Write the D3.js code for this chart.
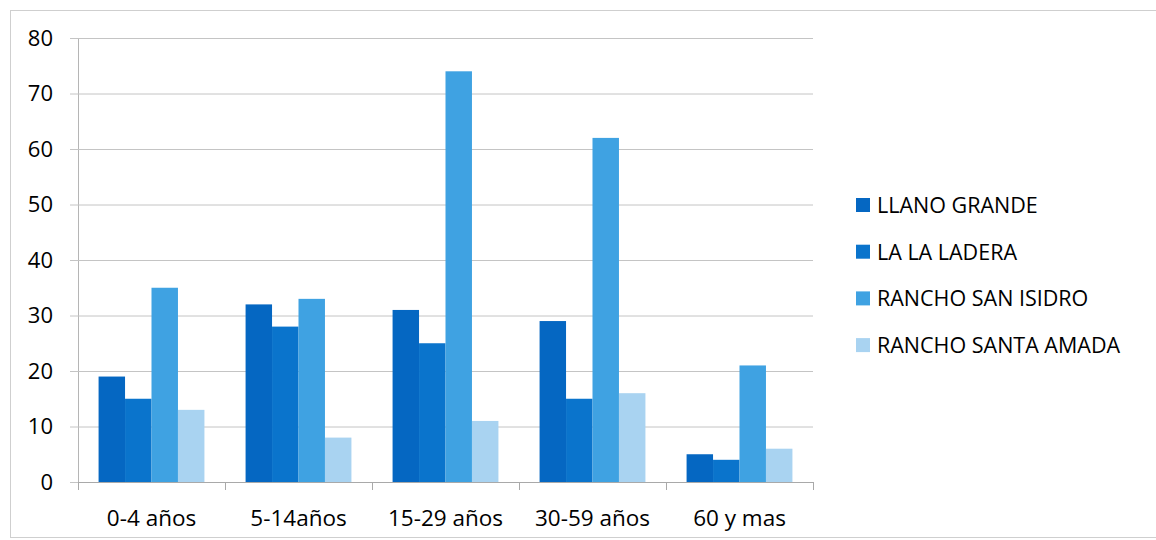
<!DOCTYPE html>
<html>
<head>
<meta charset="utf-8">
<script src="https://cdn.jsdelivr.net/npm/d3@7"></script>
<style>
  body { margin: 0; background: #fff; }
  svg { display: block; }
  text { font-family: "Open Sans", sans-serif; fill: #000; }
</style>
</head>
<body>
<div id="chart"></div>
<script>
// datos
let categorias = ['0-4 años', '5-14años', '15-29 años', '30-59 años', '60 y mas'];
let series = ['LLANO GRANDE', 'LA LA LADERA', 'RANCHO SAN ISIDRO', 'RANCHO SANTA AMADA'];
let llanoGrande = [19, 32, 31, 29, 5];
let laLadera = [15, 28, 25, 15, 4];
let sanIsidro = [35, 33, 74, 62, 21];
let santaAmada = [13, 8, 11, 16, 6];
let yTicks = [0, 10, 20, 30, 40, 50, 60, 70, 80];
let colores = ['#0567c2', '#0a74cc', '#3fa2e2', '#a9d3f1'];

let valores = [llanoGrande, laLadera, sanIsidro, santaAmada];

let width = 1156, height = 540;
let margin = {left: 78, right: 343, top: 38, bottom: 58};

let svg = d3.select('#chart').append('svg')
    .attr('width', width)
    .attr('height', height);

// marco exterior
svg.append('rect')
    .attr('x', 10.5).attr('y', 10.5)
    .attr('width', 1150).attr('height', 527)
    .attr('fill', 'none')
    .attr('stroke', '#cfcfcf');

let x0 = d3.scaleBand()
    .domain(categorias)
    .range([margin.left, width - margin.right])
    .paddingInner(0.28)
    .paddingOuter(0.14);

let x1 = d3.scaleBand()
    .domain(series)
    .range([0, x0.bandwidth()]);

let y = d3.scaleLinear()
    .domain([0, 80])
    .range([height - margin.bottom, margin.top]);

// rejilla
let yAxis = svg.append('g')
    .attr('transform', 'translate(' + margin.left + ',0)')
    .call(d3.axisLeft(y).tickValues(yTicks).tickSize(8).tickPadding(17));
yAxis.select('.domain').attr('stroke', '#b5b5b5');
yAxis.selectAll('.tick line').attr('stroke', '#c4c4c4');
yAxis.selectAll('.tick text')
    .style('font-size', '22px')
    .style('font-family', '"Open Sans", sans-serif')
    .attr('fill', '#000');

svg.append('g')
    .selectAll('line')
    .data(yTicks.filter(d => d > 0))
    .enter()
    .append('line')
    .attr('x1', margin.left)
    .attr('x2', width - margin.right)
    .attr('y1', d => y(d) + 0.5)
    .attr('y2', d => y(d) + 0.5)
    .attr('stroke', '#c4c4c4');

// barras
let grupos = svg.append('g')
    .selectAll('g')
    .data(categorias)
    .enter()
    .append('g')
    .attr('transform', d => 'translate(' + x0(d) + ',0)');

grupos.selectAll('rect')
    .data((d, i) => series.map((s, j) => ({serie: s, valor: valores[j][i], color: colores[j]})))
    .enter()
    .append('rect')
    .attr('x', d => x1(d.serie))
    .attr('y', d => y(d.valor))
    .attr('width', x1.bandwidth())
    .attr('height', d => y(0) - y(d.valor))
    .attr('fill', d => d.color);

// eje x
let bordes = d3.range(categorias.length + 1).map(i => margin.left + i * (width - margin.left - margin.right) / categorias.length);
let xAxis = svg.append('g');
xAxis.append('line')
    .attr('x1', margin.left).attr('x2', width - margin.right)
    .attr('y1', y(0) + 0.5).attr('y2', y(0) + 0.5)
    .attr('stroke', '#a9a9a9');
xAxis.selectAll('line.tk')
    .data(bordes)
    .enter()
    .append('line')
    .attr('class', 'tk')
    .attr('x1', d => d + 0.5).attr('x2', d => d + 0.5)
    .attr('y1', y(0)).attr('y2', y(0) + 8)
    .attr('stroke', '#a9a9a9');
xAxis.selectAll('text')
    .data(categorias)
    .enter()
    .append('text')
    .attr('x', d => x0(d) + x0.bandwidth() / 2)
    .attr('y', y(0) + 44)
    .attr('text-anchor', 'middle')
    .style('font-size', '22.5px')
    .text(d => d);

// leyenda
let leyenda = svg.append('g')
    .selectAll('g')
    .data(series)
    .enter()
    .append('g')
    .attr('transform', (d, i) => 'translate(856,' + (205 + i * 46.7) + ')');

leyenda.append('rect')
    .attr('x', 0).attr('y', -7)
    .attr('width', 14).attr('height', 14)
    .attr('fill', (d, i) => colores[i]);

leyenda.append('text')
    .attr('x', 21)
    .attr('y', 8)
    .style('font-size', '21.5px')
    .text(d => d);
</script>
</body>
</html>
